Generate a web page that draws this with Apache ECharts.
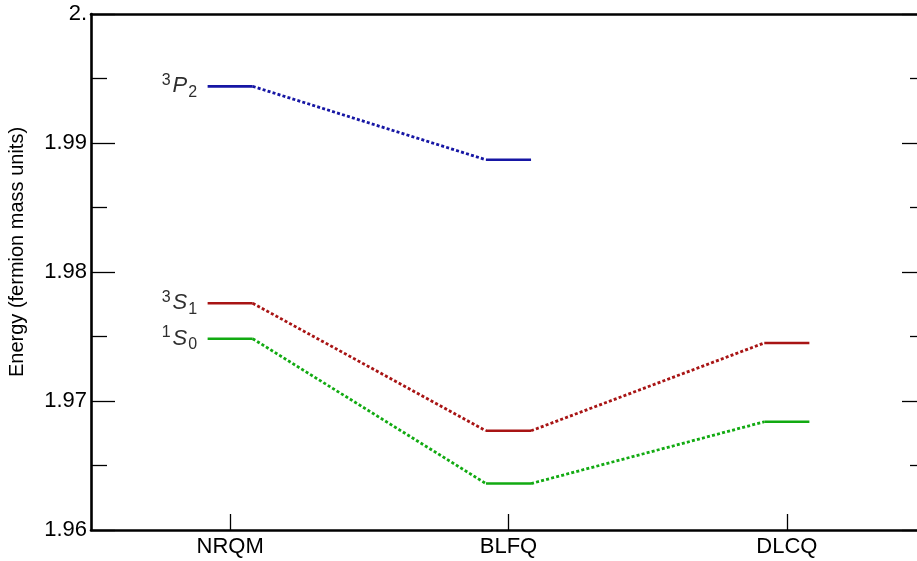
<!DOCTYPE html>
<html>
<head>
<meta charset="utf-8">
<script src="https://cdn.jsdelivr.net/npm/echarts@6/dist/echarts.min.js"></script>
<style>
html,body{margin:0;padding:0;background:#fff;}
#c{width:917px;height:561px;}
</style>
</head>
<body>
<div id="c"></div>
<script>
// ---- data ----
const methods = ['NRQM', 'BLFQ', 'DLCQ'];
const stateSup = ['3', '3', '1'];
const stateLetter = ['P', 'S', 'S'];
const stateSub = ['2', '1', '0'];
const energy3P2 = [1.99439, 1.98870, null];
const energy3S1 = [1.97758, 1.96769, 1.97450];
const energy1S0 = [1.97483, 1.96360, 1.96839];
const yTicks = [1.96, 1.97, 1.98, 1.99, 2.0];
const stateColors = ['#1616a4', '#a81414', '#12aa12'];

const stateValues = [energy3P2, energy3S1, energy1S0];
const halfWidth = 0.081;
const FONT = '"Liberation Sans", Arial, sans-serif';
const LABEL_COLOR = '#2e2e2e';

const series = [];
const labelData = [];
stateValues.forEach((vals, s) => {
  const color = stateColors[s];
  vals.forEach((v, i) => {
    if (v == null) return;
    series.push({
      type: 'line', xAxisIndex: 0, yAxisIndex: 0,
      symbol: 'none', silent: true,
      lineStyle: { color: color, width: 2.6 },
      data: [[i - halfWidth, v], [i + halfWidth, v]]
    });
    if (i === 0) {
      labelData.push({
        value: [i - halfWidth, v],
        label: {
          formatter: '{sup|' + stateSup[s] + '}{main|' + stateLetter[s] + '}{sub|' + stateSub[s] + '}'
        }
      });
    }
    if (i + 1 < vals.length && vals[i + 1] != null) {
      series.push({
        type: 'line', xAxisIndex: 0, yAxisIndex: 0,
        symbol: 'none', silent: true,
        lineStyle: { color: color, width: 2.8, type: [3, 2.2] },
        data: [[i + halfWidth, v], [i + 1 - halfWidth, vals[i + 1]]]
      });
    }
  });
});

series.push({
  type: 'scatter', xAxisIndex: 0, yAxisIndex: 0, silent: true,
  symbolSize: 1, itemStyle: { color: 'rgba(0,0,0,0)' },
  label: {
    show: true, position: 'left', distance: 10, opacity: 1,
    rich: {
      sup: { fontFamily: FONT, fontSize: 16, color: LABEL_COLOR, lineHeight: 16, verticalAlign: 'top', padding: [0, 2, 0, 0] },
      main: { fontFamily: FONT, fontSize: 22, fontStyle: 'italic', color: LABEL_COLOR, lineHeight: 28, verticalAlign: 'middle' },
      sub: { fontFamily: FONT, fontSize: 16, color: LABEL_COLOR, lineHeight: 16, verticalAlign: 'bottom', padding: [0, 0, 0, 1] }
    }
  },
  labelLayout: { hideOverlap: false },
  data: labelData
});

const axisLineStyle = { color: '#000', width: 2.6 };
const tickStyle = { color: '#000', width: 1.3 };
const yLabelFmt = v => (Math.abs(v - 2) < 1e-9 ? '2.' : v.toFixed(2));

const option = {
  animation: false,
  backgroundColor: '#fff',
  grid: { left: 91, width: 835, top: 14, bottom: 31, containLabel: false, outerBoundsMode: 'none' },
  xAxis: [
    { type: 'value', min: -0.5, max: 2.5, show: false },
    {
      type: 'category', position: 'bottom', data: methods, boundaryGap: true,
      axisLine: { show: true, onZero: false, lineStyle: axisLineStyle },
      axisTick: { show: true, inside: true, length: 16, alignWithLabel: true, lineStyle: tickStyle },
      axisLabel: { color: '#000', fontFamily: FONT, fontSize: 22, margin: 6 },
      splitLine: { show: false }
    },
    {
      type: 'category', position: 'top', data: methods, boundaryGap: true,
      axisLine: { show: true, onZero: false, lineStyle: axisLineStyle },
      axisTick: { show: false }, axisLabel: { show: false }, splitLine: { show: false }
    }
  ],
  yAxis: [
    {
      type: 'value', position: 'left', min: 1.96, max: 2.0, interval: 0.01,
      name: 'Energy (fermion mass units)', nameLocation: 'middle', nameGap: 64,
      nameTextStyle: { color: '#000', fontFamily: FONT, fontSize: 20, padding: [0, 0, 0, 40] },
      axisLine: { show: true, onZero: false, lineStyle: axisLineStyle },
      axisTick: { show: true, inside: true, length: 24, lineStyle: tickStyle },
      minorTick: { show: true, splitNumber: 2, length: 16, lineStyle: tickStyle },
      axisLabel: { color: '#000', fontFamily: FONT, fontSize: 22, margin: 4, formatter: yLabelFmt },
      splitLine: { show: false }
    },
    {
      type: 'value', position: 'right', min: 1.96, max: 2.0, interval: 0.01,
      axisLine: { show: true, onZero: false, lineStyle: axisLineStyle },
      axisTick: { show: true, inside: true, length: 24, lineStyle: tickStyle },
      minorTick: { show: true, splitNumber: 2, length: 16, lineStyle: tickStyle },
      axisLabel: { show: false },
      splitLine: { show: false }
    }
  ],
  series: series
};

const chart = echarts.init(document.getElementById('c'), null, { renderer: 'canvas' });
chart.setOption(option);
</script>
</body>
</html>
